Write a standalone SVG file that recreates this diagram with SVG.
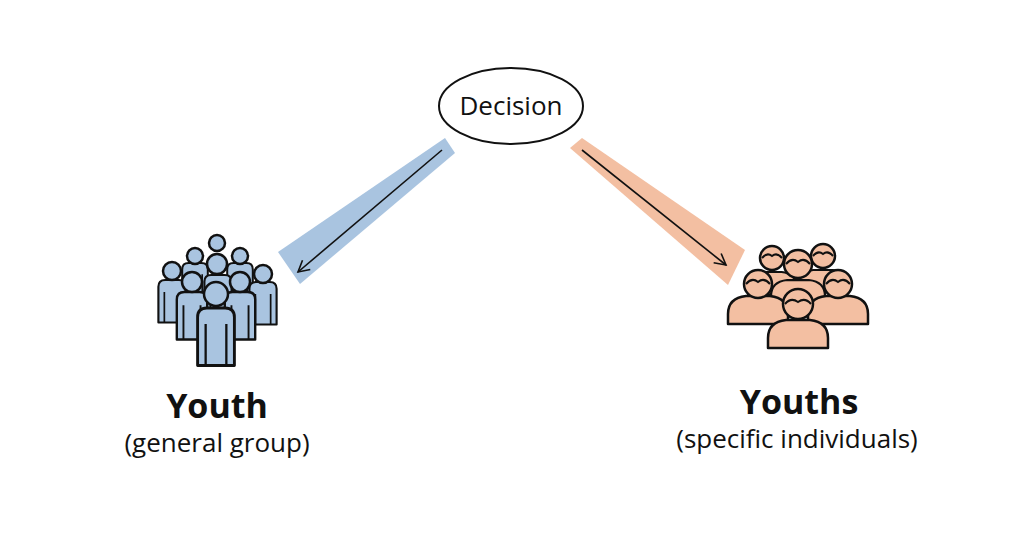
<svg xmlns="http://www.w3.org/2000/svg" width="1024" height="559" viewBox="0 0 1024 559">
<style>
text{font-family:"Open Sans","Noto Sans",sans-serif;fill:#111;text-anchor:middle}
.b{fill:#a9c4e0;stroke:#111;stroke-width:2.5;stroke-linejoin:round}
.o{fill:#f3bfa2;stroke:#111;stroke-width:2.5;stroke-linejoin:round}
.h{fill:none;stroke:#111;stroke-width:2}
</style>
<defs>
<marker id="ah" markerWidth="14" markerHeight="14" refX="12" refY="7" orient="auto" markerUnits="userSpaceOnUse"><path d="M1,1 L12,7 L1,13" fill="none" stroke="#111" stroke-width="1.6"/></marker>
<g id="bp"><path class="b" d="M-16,50 V8 Q-16,0 -8,0 H8 Q16,0 16,8 V50 Z"/><path class="h" d="M-9,14 V50 M9,14 V50"/></g>
<g id="op"><path class="o" d="M-30,28 V18 Q-30,2 -12,0 H12 Q30,2 30,18 V28 Z"/></g>
</defs>
<rect width="1024" height="559" fill="#fff"/>
<g id="connectors">
<polygon points="445,138 455,153 300,284 278,252" fill="#a9c4e0"/>
<polygon points="570,148 582,138 745,250 728,285" fill="#f3bfa2"/>
<line x1="442" y1="150" x2="298" y2="272" stroke="#111" stroke-width="1.6" marker-end="url(#ah)"/>
<line x1="582" y1="150" x2="726" y2="265" stroke="#111" stroke-width="1.6" marker-end="url(#ah)"/>
</g>
<g id="decision">
<ellipse cx="511" cy="106" rx="72" ry="38" fill="#fff" stroke="#111" stroke-width="2"/>
<text x="511" y="115" font-size="26">Decision</text>
</g>
<g id="youth">
<circle class="b" cx="217" cy="243" r="8"/>
<use href="#bp" transform="translate(195,263) scale(0.8)"/><circle class="b" cx="195" cy="256" r="8"/>
<use href="#bp" transform="translate(240,263) scale(0.8)"/><circle class="b" cx="240" cy="256" r="8"/>
<use href="#bp" transform="translate(172,280) scale(0.85)"/><circle class="b" cx="172" cy="271" r="9"/>
<use href="#bp" transform="translate(263,282) scale(0.85)"/><circle class="b" cx="263" cy="274" r="9"/>
<use href="#bp" transform="translate(218,275) scale(0.85)"/><circle class="b" cx="217" cy="264" r="10"/>
<use href="#bp" transform="translate(192,292) scale(0.95)"/><circle class="b" cx="192" cy="282" r="10"/>
<use href="#bp" transform="translate(240,292) scale(0.95)"/><circle class="b" cx="240" cy="282" r="10"/>
<use href="#bp" transform="translate(216,308) scale(1.15)"/><circle class="b" cx="216" cy="294" r="12"/>
<text x="217" y="418" font-size="34" font-weight="bold">Youth</text>
<text x="217" y="452" font-size="26">(general group)</text>
</g>
<g id="youths">
<use href="#op" transform="translate(772,272) scale(0.8)"/><circle class="o" cx="772" cy="258" r="12"/><path class="h" d="M762,258 Q767,252 772,256 Q777,252 782,258"/>
<use href="#op" transform="translate(823,270) scale(0.8)"/><circle class="o" cx="823" cy="256" r="12"/><path class="h" d="M813,256 Q818,250 823,254 Q828,250 833,256"/>
<use href="#op" transform="translate(798,280) scale(0.9)"/><circle class="o" cx="798" cy="264" r="14"/><path class="h" d="M786,264 Q792,257 798,262 Q804,257 810,264"/>
<use href="#op" transform="translate(758,296)"/><circle class="o" cx="758" cy="284" r="14"/><path class="h" d="M746,284 Q752,277 758,282 Q764,277 770,284"/>
<use href="#op" transform="translate(838,296)"/><circle class="o" cx="838" cy="284" r="14"/><path class="h" d="M826,284 Q832,277 838,282 Q844,277 850,284"/>
<use href="#op" transform="translate(798,320)"/><circle class="o" cx="798" cy="304" r="15"/><path class="h" d="M785,304 Q791,297 798,302 Q805,297 811,304"/>
<text x="799" y="414" font-size="34" font-weight="bold">Youths</text>
<text x="797" y="448" font-size="26">(specific individuals)</text>
</g>
</svg>
